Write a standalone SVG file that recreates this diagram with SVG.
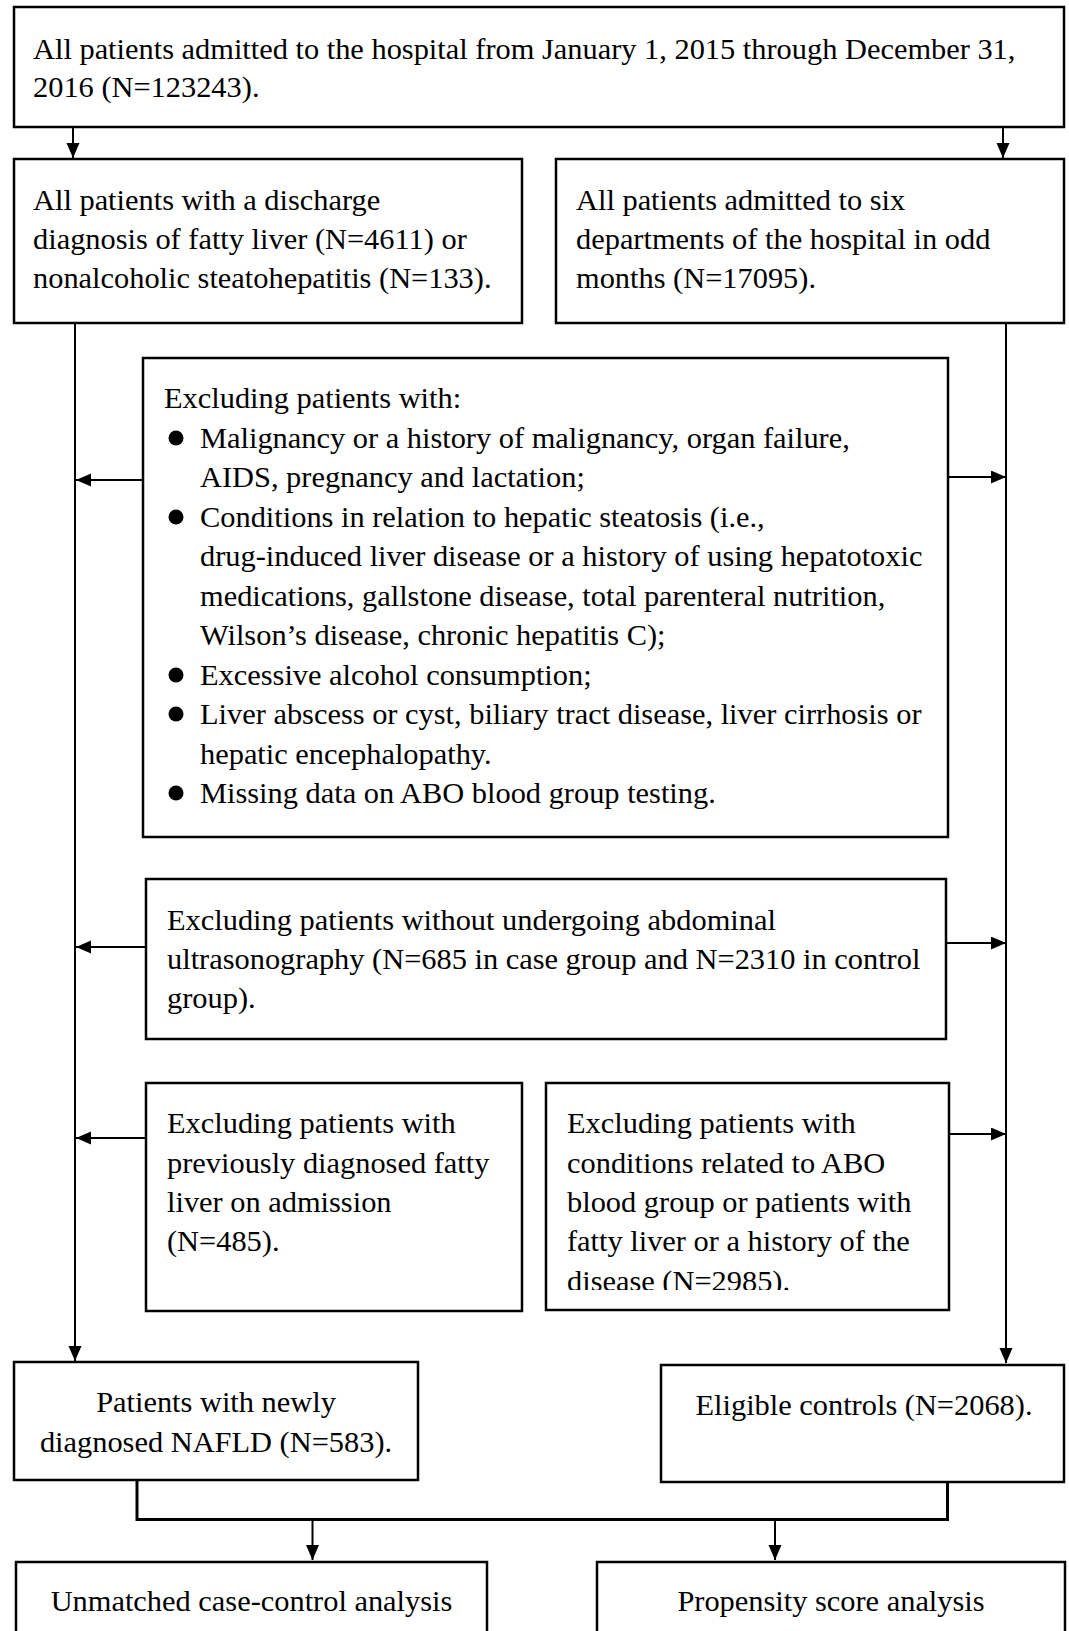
<svg xmlns="http://www.w3.org/2000/svg" width="1069" height="1631" viewBox="0 0 1069 1631">
<style>
  .box { fill: #ffffff; stroke: #000000; stroke-width: 2.5; }
  .t { font-family: "Liberation Serif", "Times New Roman", serif; font-size: 30.4px; fill: #000000; }
  .c { text-anchor: middle; }
  .ln { fill: none; stroke: #000000; stroke-width: 2; }
  .lnb { fill: none; stroke: #000000; stroke-width: 3; }
  .bul { fill: #000000; }
</style>
<defs>
  <marker id="arr" markerUnits="userSpaceOnUse" markerWidth="16" markerHeight="14" refX="15" refY="6.5" orient="auto">
    <path d="M0,0 L15,6.5 L0,13 z" fill="#000000"/>
  </marker>
  <clipPath id="clipR">
    <rect x="546" y="1083" width="403" height="207"/>
  </clipPath>
</defs>
<rect x="0" y="0" width="1069" height="1631" fill="#ffffff"/>

<g id="connectors">
  <line class="ln" x1="73" y1="127" x2="73" y2="158" marker-end="url(#arr)"/>
  <line class="ln" x1="1003" y1="127" x2="1003" y2="158" marker-end="url(#arr)"/>
  <line class="ln" x1="75" y1="323" x2="75" y2="1361" marker-end="url(#arr)"/>
  <line class="ln" x1="1006" y1="323" x2="1006" y2="1363" marker-end="url(#arr)"/>
  <line class="ln" x1="143" y1="480" x2="76" y2="480" marker-end="url(#arr)"/>
  <line class="ln" x1="948" y1="477" x2="1006" y2="477" marker-end="url(#arr)"/>
  <line class="ln" x1="146" y1="947" x2="76" y2="947" marker-end="url(#arr)"/>
  <line class="ln" x1="946" y1="943" x2="1006" y2="943" marker-end="url(#arr)"/>
  <line class="ln" x1="146" y1="1138" x2="76" y2="1138" marker-end="url(#arr)"/>
  <line class="ln" x1="949" y1="1134" x2="1006" y2="1134" marker-end="url(#arr)"/>
  <polyline class="lnb" points="137,1480 137,1519.5 947.5,1519.5 947.5,1482"/>
  <line class="ln" x1="312.5" y1="1519" x2="312.5" y2="1560" marker-end="url(#arr)"/>
  <line class="ln" x1="775" y1="1519" x2="775" y2="1560" marker-end="url(#arr)"/>
</g>

<g id="node-all">
  <rect class="box" x="14" y="7" width="1050" height="120"/>
  <text class="t" x="33" y="59">All patients admitted to the hospital from January 1, 2015 through December 31,</text>
  <text class="t" x="33" y="97">2016 (N=123243).</text>
</g>

<g id="node-fatty">
  <rect class="box" x="14" y="159" width="508" height="164"/>
  <text class="t" x="33" y="210">All patients with a discharge</text>
  <text class="t" x="33" y="249">diagnosis of fatty liver (N=4611) or</text>
  <text class="t" x="33" y="288">nonalcoholic steatohepatitis (N=133).</text>
</g>

<g id="node-six">
  <rect class="box" x="556" y="159" width="508" height="164"/>
  <text class="t" x="576" y="210">All patients admitted to six</text>
  <text class="t" x="576" y="249">departments of the hospital in odd</text>
  <text class="t" x="576" y="288">months (N=17095).</text>
</g>

<g id="node-exclude1">
  <rect class="box" x="143" y="358" width="805" height="479"/>
  <text class="t" x="164" y="408">Excluding patients with:</text>
  <circle class="bul" cx="176" cy="438" r="7.5"/>
  <text class="t" x="200" y="447.5">Malignancy or a history of malignancy, organ failure,</text>
  <text class="t" x="200" y="487">AIDS, pregnancy and lactation;</text>
  <circle class="bul" cx="176" cy="517" r="7.5"/>
  <text class="t" x="200" y="526.5">Conditions in relation to hepatic steatosis (i.e.,</text>
  <text class="t" x="200" y="566">drug-induced liver disease or a history of using hepatotoxic</text>
  <text class="t" x="200" y="605.5">medications, gallstone disease, total parenteral nutrition,</text>
  <text class="t" x="200" y="645">Wilson’s disease, chronic hepatitis C);</text>
  <circle class="bul" cx="176" cy="675" r="7.5"/>
  <text class="t" x="200" y="684.5">Excessive alcohol consumption;</text>
  <circle class="bul" cx="176" cy="714" r="7.5"/>
  <text class="t" x="200" y="724">Liver abscess or cyst, biliary tract disease, liver cirrhosis or</text>
  <text class="t" x="200" y="763.5">hepatic encephalopathy.</text>
  <circle class="bul" cx="176" cy="793" r="7.5"/>
  <text class="t" x="200" y="803">Missing data on ABO blood group testing.</text>
</g>

<g id="node-ultrasound">
  <rect class="box" x="146" y="879" width="800" height="160"/>
  <text class="t" x="167" y="930">Excluding patients without undergoing abdominal</text>
  <text class="t" x="167" y="969">ultrasonography (N=685 in case group and N=2310 in control</text>
  <text class="t" x="167" y="1008">group).</text>
</g>

<g id="node-previous">
  <rect class="box" x="146" y="1083" width="376" height="228"/>
  <text class="t" x="167" y="1133">Excluding patients with</text>
  <text class="t" x="167" y="1172.5">previously diagnosed fatty</text>
  <text class="t" x="167" y="1212">liver on admission</text>
  <text class="t" x="167" y="1251">(N=485).</text>
</g>

<g id="node-abo">
  <rect class="box" x="546" y="1083" width="403" height="227"/>
  <g clip-path="url(#clipR)">
    <text class="t" x="567" y="1133">Excluding patients with</text>
    <text class="t" x="567" y="1172.5">conditions related to ABO</text>
    <text class="t" x="567" y="1212">blood group or patients with</text>
    <text class="t" x="567" y="1251">fatty liver or a history of the</text>
    <text class="t" x="567" y="1290.5">disease (N=2985).</text>
  </g>
</g>

<g id="node-nafld">
  <rect class="box" x="14" y="1362" width="404" height="118"/>
  <text class="t c" x="216" y="1412">Patients with newly</text>
  <text class="t c" x="216" y="1452">diagnosed NAFLD (N=583).</text>
</g>

<g id="node-controls">
  <rect class="box" x="661" y="1365" width="403" height="117"/>
  <text class="t c" x="864" y="1415">Eligible controls (N=2068).</text>
</g>

<g id="node-unmatched">
  <rect class="box" x="16" y="1562" width="471" height="100"/>
  <text class="t c" x="251.5" y="1611">Unmatched case-control analysis</text>
</g>

<g id="node-propensity">
  <rect class="box" x="597" y="1562" width="468" height="100"/>
  <text class="t c" x="831" y="1611">Propensity score analysis</text>
</g>
</svg>
